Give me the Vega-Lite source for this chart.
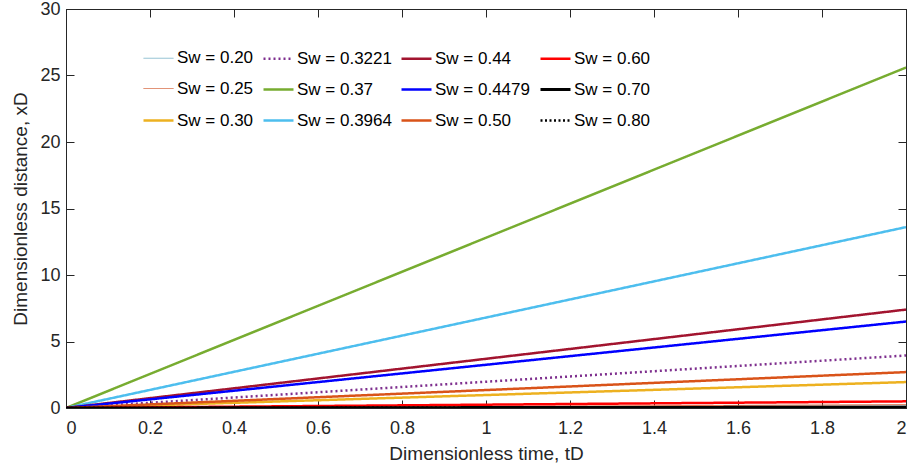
{
  "$schema": "https://vega.github.io/schema/vega-lite/v6.json",
  "autosize": {"type": "none"},
  "width": 840,
  "height": 399,
  "padding": {"left": 66, "top": 9, "right": 5, "bottom": 65},
  "background": "white",
  "config": {
    "view": {"stroke": "#262626", "strokeWidth": 1},
    "axis": {"labelFont": "Arial", "titleFont": "Arial", "labelFontSize": 18, "titleFontSize": 19, "labelColor": "#262626", "titleColor": "#262626", "titleFontWeight": "normal", "domainColor": "#262626", "tickColor": "#262626", "grid": false, "tickSize": -8},
    "legend": {"labelFont": "Arial", "labelFontSize": 17, "labelColor": "#000000"}
  },
  "data": {"values": [
    {"Sw": "0.20", "t": 0, "x": 0}, {"Sw": "0.20", "t": 2, "x": 0.15},
    {"Sw": "0.25", "t": 0, "x": 0}, {"Sw": "0.25", "t": 2, "x": 0.25},
    {"Sw": "0.30", "t": 0, "x": 0}, {"Sw": "0.30", "t": 2, "x": 1.95},
    {"Sw": "0.3221", "t": 0, "x": 0}, {"Sw": "0.3221", "t": 2, "x": 3.95},
    {"Sw": "0.37", "t": 0, "x": 0}, {"Sw": "0.37", "t": 2, "x": 25.6},
    {"Sw": "0.3964", "t": 0, "x": 0}, {"Sw": "0.3964", "t": 2, "x": 13.6},
    {"Sw": "0.44", "t": 0, "x": 0}, {"Sw": "0.44", "t": 2, "x": 7.4},
    {"Sw": "0.4479", "t": 0, "x": 0}, {"Sw": "0.4479", "t": 2, "x": 6.5},
    {"Sw": "0.50", "t": 0, "x": 0}, {"Sw": "0.50", "t": 2, "x": 2.7},
    {"Sw": "0.60", "t": 0, "x": 0}, {"Sw": "0.60", "t": 2, "x": 0.5},
    {"Sw": "0.70", "t": 0, "x": 0}, {"Sw": "0.70", "t": 2, "x": 0.06},
    {"Sw": "0.80", "t": 0, "x": 0}, {"Sw": "0.80", "t": 2, "x": 0.03}
  ]},
  "layer": [
    {
      "mark": {"type": "line", "clip": true},
      "encoding": {
        "x": {"field": "t", "type": "quantitative", "scale": {"domain": [0, 2], "nice": false, "zero": false}, "axis": {"title": "Dimensionless time, tD", "values": [0,0.2,0.4,0.6,0.8,1,1.2,1.4,1.6,1.8,2], "format": "~g", "labelPadding": 19, "titlePadding": 7}},
        "y": {"field": "x", "type": "quantitative", "scale": {"domain": [0, 30], "nice": false}, "axis": {"title": "Dimensionless distance, xD", "values": [0,5,10,15,20,25,30], "labelPadding": 14, "titlePadding": 9}},
        "color": {"field": "Sw", "type": "nominal", "scale": {
          "domain": ["0.20","0.25","0.30","0.3221","0.37","0.3964","0.44","0.4479","0.50","0.60","0.70","0.80"],
          "range": ["#82b8cc","#D9714A","#EDB120","#7E2F8E","#77AC30","#4DBEEE","#A2142F","#0000FF","#D95319","#FF0000","#000000","#000000"]},
          "legend": {"title": null, "orient": "none", "legendX": 76, "legendY": 33, "columns": 4, "symbolType": "stroke", "symbolSize": 900, "rowPadding": 6, "columnPadding": 4, "labelOffset": 2, "labelExpr": "'Sw = ' + datum.label"}},
        "strokeDash": {"field": "Sw", "type": "nominal", "scale": {
          "domain": ["0.20","0.25","0.30","0.3221","0.37","0.3964","0.44","0.4479","0.50","0.60","0.70","0.80"],
          "range": [[1,0],[1,0],[1,0],[2,3],[1,0],[1,0],[1,0],[1,0],[1,0],[1,0],[1,0],[2,2.5]]}, "legend": {"title": null}},
        "strokeWidth": {"field": "Sw", "type": "nominal", "scale": {"type": "ordinal",
          "domain": ["0.20","0.25","0.30","0.3221","0.37","0.3964","0.44","0.4479","0.50","0.60","0.70","0.80"],
          "range": [1,1,2.5,2.5,2.5,2.5,2.5,2.5,2.5,2.5,3,2.5]}, "legend": {"title": null}},
        "order": {"field": "Sw", "type": "ordinal"}
      }
    },
    {
      "mark": {"type": "point", "opacity": 0},
      "encoding": {
        "x": {"field": "t", "type": "quantitative", "scale": {"domain": [0, 2], "nice": false, "zero": false}, "axis": {"orient": "top", "labels": false, "title": null, "values": [0,0.2,0.4,0.6,0.8,1,1.2,1.4,1.6,1.8,2]}},
        "y": {"field": "x", "type": "quantitative", "scale": {"domain": [0, 30], "nice": false}, "axis": {"orient": "right", "labels": false, "title": null, "values": [0,5,10,15,20,25,30]}}
      }
    }
  ],
  "resolve": {"axis": {"x": "independent", "y": "independent"}}
}
